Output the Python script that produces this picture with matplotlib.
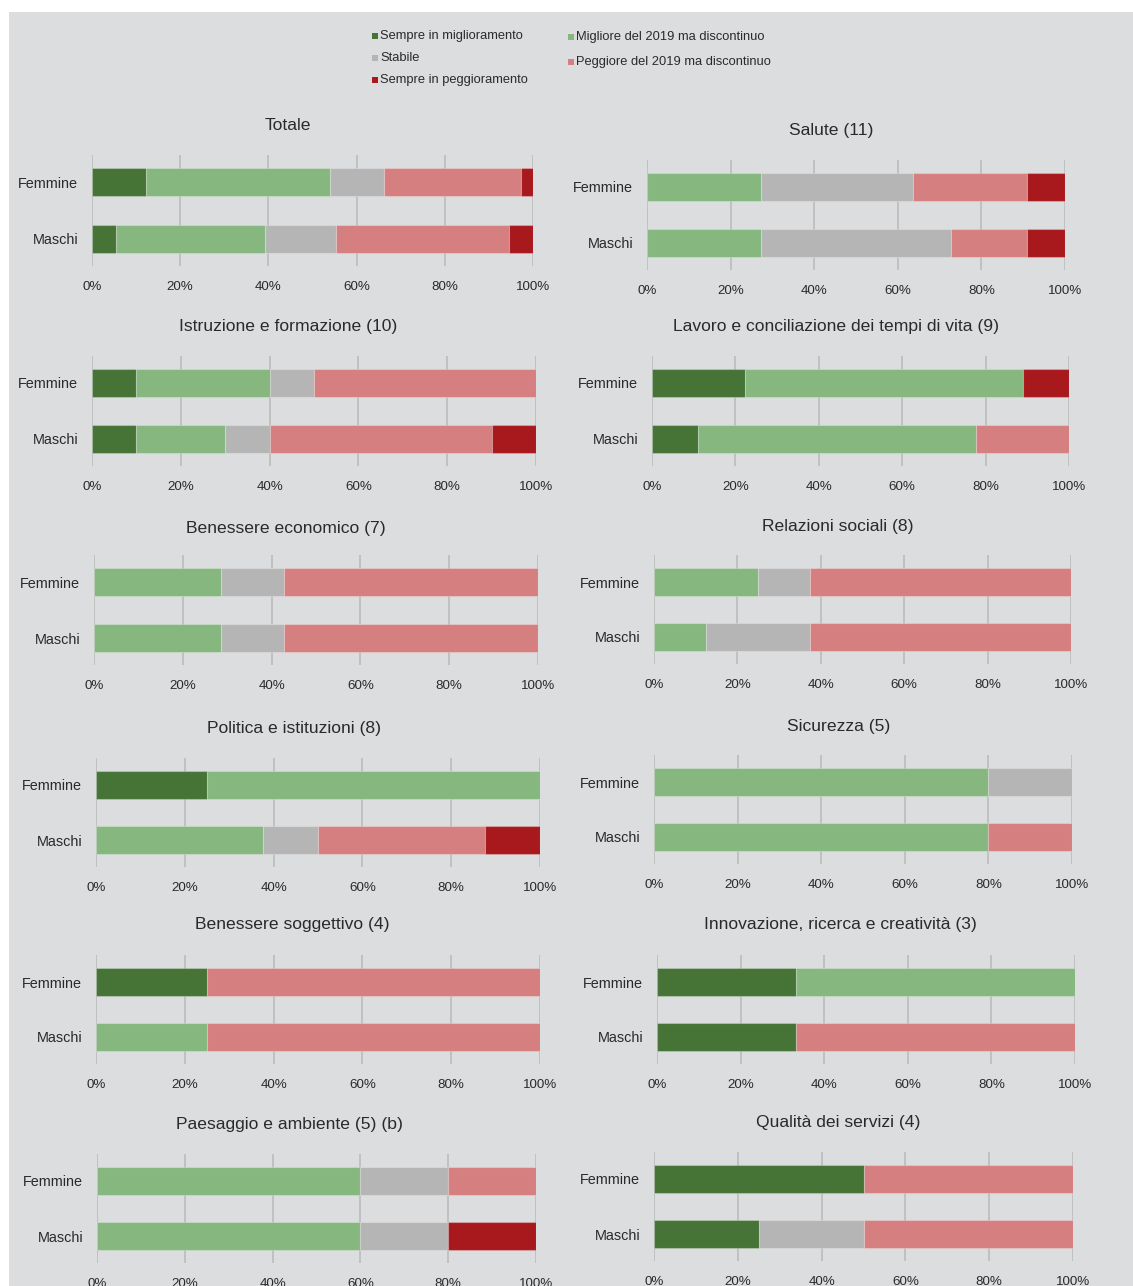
import matplotlib
matplotlib.use("Agg")
import matplotlib.pyplot as plt
from matplotlib.patches import Rectangle
import numpy as np

# ---------------- data ----------------
categories = ["Sempre in miglioramento", "Migliore del 2019 ma discontinuo",
              "Stabile", "Peggiore del 2019 ma discontinuo", "Sempre in peggioramento"]
genders = ["Femmine", "Maschi"]
domains = ["Totale", "Salute (11)", "Istruzione e formazione (10)",
           "Lavoro e conciliazione dei tempi di vita (9)", "Benessere economico (7)",
           "Relazioni sociali (8)", "Politica e istituzioni (8)", "Sicurezza (5)",
           "Benessere soggettivo (4)", "Innovazione, ricerca e creatività (3)",
           "Paesaggio e ambiente (5) (b)", "Qualità dei servizi (4)"]

# number of indicators per outcome (Femmine)
f_sempre_migl = [9, 0, 1, 2, 0, 0, 2, 0, 1, 1, 0, 2]
f_migliore    = [31, 3, 3, 6, 2, 2, 6, 4, 0, 2, 3, 0]
f_stabile     = [9, 4, 1, 0, 1, 1, 0, 1, 0, 0, 1, 0]
f_peggiore    = [23, 3, 5, 0, 4, 5, 0, 0, 3, 0, 1, 2]
f_sempre_pegg = [2, 1, 0, 1, 0, 0, 0, 0, 0, 0, 0, 0]

# number of indicators per outcome (Maschi)
m_sempre_migl = [4, 0, 1, 1, 0, 0, 0, 0, 0, 1, 0, 1]
m_migliore    = [25, 3, 2, 6, 2, 1, 3, 4, 1, 0, 3, 0]
m_stabile     = [12, 5, 1, 0, 1, 2, 1, 0, 0, 0, 1, 1]
m_peggiore    = [29, 2, 5, 2, 4, 5, 3, 1, 3, 2, 0, 2]
m_sempre_pegg = [4, 1, 1, 0, 0, 0, 1, 0, 0, 0, 1, 0]

tick_values = [0, 20, 40, 60, 80, 100]
tick_labels = ["0%", "20%", "40%", "60%", "80%", "100%"]

# ---------------- style / layout ----------------
colors = ["#467437", "#85B77F", "#B4B5B4", "#D67F80", "#A8191E"]
BG = "#DCDDDE"
GRID = "#BEBEBE"
TXT = "#2A2A2A"
FONT = ["Liberation Sans", "DejaVu Sans"]
plt.rcParams["font.family"] = FONT

W, H = 1133, 1286
DPI = 100
# per panel: x of 0%, x of 100%, y of Femmine bar, y of Maschi bar, title x, title y (pixels)
layout = [
    (92, 533, 182, 239, 288, 125),
    (647, 1065, 187, 243, 831, 131),
    (92, 536, 383, 439, 288, 327),
    (652, 1069, 383, 439, 836, 327),
    (94, 538, 582, 638, 286, 529),
    (654, 1071, 582, 637, 838, 526),
    (96, 540, 785, 840, 294, 729),
    (654, 1072, 782, 837, 839, 727),
    (96, 540, 982, 1037, 292, 925),
    (657, 1075, 982, 1037, 840, 925),
    (97, 536, 1181, 1236, 290, 1125),
    (654, 1073, 1179, 1234, 838, 1123),
]
BAR_PX = 28
EXT_PX = 27

fig = plt.figure(figsize=(W / DPI, H / DPI), dpi=DPI)
fig.patch.set_facecolor("white")
fig.patches.append(Rectangle((9 / W, 0), 1 - 9 / W, 1 - 12 / H, transform=fig.transFigure,
                             facecolor=BG, edgecolor="none", zorder=-10))

fem = np.array([f_sempre_migl, f_migliore, f_stabile, f_peggiore, f_sempre_pegg], dtype=float)
mas = np.array([m_sempre_migl, m_migliore, m_stabile, m_peggiore, m_sempre_pegg], dtype=float)

for i, name in enumerate(domains):
    x0, x1, yF, yM, tx, ty = layout[i]
    spacing = yM - yF
    top = yF - EXT_PX
    bottom = yM + EXT_PX
    ax = fig.add_axes([x0 / W, 1 - bottom / H, (x1 - x0) / W, (bottom - top) / H])
    ax.set_facecolor("none")
    ext = EXT_PX / spacing
    ax.set_xlim(0, 100)
    ax.set_ylim(1 + ext, -ext)
    for s in ax.spines.values():
        s.set_visible(False)
    for t in tick_values:
        ax.axvline(t, color=GRID, lw=1.3, zorder=0)
    fvals = fem[:, i] / fem[:, i].sum() * 100
    mvals = mas[:, i] / mas[:, i].sum() * 100
    h = BAR_PX / spacing
    for g, vals in enumerate([fvals, mvals]):
        left = 0.0
        for c in range(len(categories)):
            if vals[c] > 0:
                ax.barh(g, vals[c], left=left, height=h, color=colors[c],
                        edgecolor=(1, 1, 1, 0.25), linewidth=0.8, zorder=2)
            left += vals[c]
    ax.set_xticks(tick_values)
    ax.set_xticklabels(tick_labels, fontsize=9.6, color=TXT)
    ax.set_yticks([0, 1])
    ax.set_yticklabels(genders, fontsize=10.4, color=TXT)
    ax.tick_params(axis="x", length=0, pad=10.5)
    ax.tick_params(axis="y", length=0, pad=10)
    fig.text(tx / W, 1 - ty / H, name, ha="center", va="center", fontsize=12.6, color=TXT)

# ---------------- legend ----------------
leg_pos = [
    (372, 36, 0), (372, 58, 2), (372, 80, 4),
    (568, 37, 1), (568, 62, 3),
]
for sx, sy, c in leg_pos:
    fig.patches.append(Rectangle(((sx) / W, 1 - (sy + 3) / H), 6 / W, 6 / H,
                                 transform=fig.transFigure, facecolor=colors[c],
                                 edgecolor="none"))
    fig.text((sx + 8) / W, 1 - sy / H, categories[c], ha="left", va="center",
             fontsize=9.3, color=TXT)

fig.savefig("out.png", dpi=DPI, facecolor=fig.get_facecolor())
